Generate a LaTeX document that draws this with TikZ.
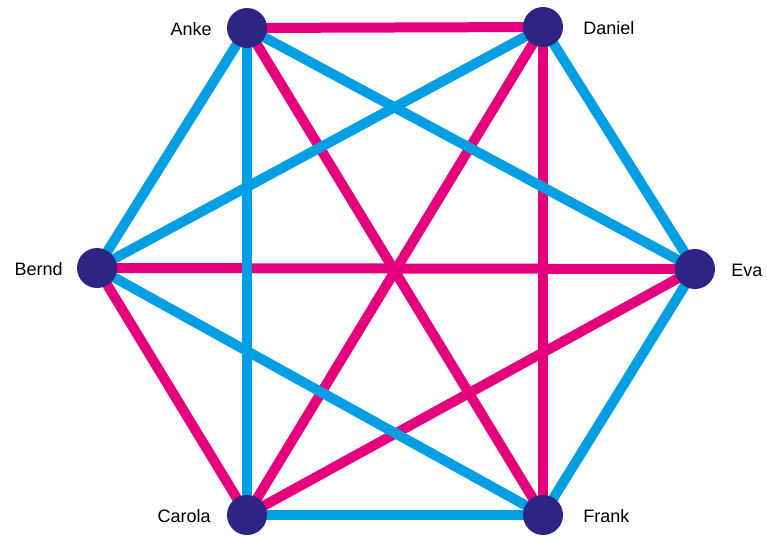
\documentclass[tikz,border=0pt]{standalone}
\usepackage{fontspec}
\setmainfont{Liberation Sans}
\usetikzlibrary{positioning}
\definecolor{ePink}{HTML}{E5007D}
\definecolor{eBlue}{HTML}{009FE3}
\definecolor{eNode}{HTML}{2E2483}
\tikzset{
  person/.style={circle, fill=eNode, draw=none, minimum size=40pt, inner sep=0pt},
  lbl/.style={inner sep=0pt, font=\fontsize{18pt}{20pt}\selectfont, text height=0.716em, text depth=0pt, yshift=-4pt},
  pinkedge/.style={draw=ePink, line width=10pt},
  blueedge/.style={draw=eBlue, line width=10pt},
}
\begin{document}
\begin{tikzpicture}[x=1pt,y=-1pt]
\useasboundingbox (0,0) rectangle (767,535);
\path
  (247,28) coordinate (pA)
  (543,27) coordinate (pD)
  (97,268) coordinate (pB)
  (695,269) coordinate (pE)
  (247,515) coordinate (pC)
  (543,515) coordinate (pF);
% pink edges (underneath)
\draw[pinkedge] (pA) -- (pD);
\draw[pinkedge] (pA) -- (pF);
\draw[pinkedge] (pD) -- (pC);
\draw[pinkedge] (pD) -- (pF);
\draw[pinkedge] (pB) -- (pE);
\draw[pinkedge] (pB) -- (pC);
\draw[pinkedge] (pE) -- (pC);
% blue edges (on top)
\draw[blueedge] (pA) -- (pB);
\draw[blueedge] (pA) -- (pC);
\draw[blueedge] (pA) -- (pE);
\draw[blueedge] (pD) -- (pB);
\draw[blueedge] (pD) -- (pE);
\draw[blueedge] (pB) -- (pF);
\draw[blueedge] (pE) -- (pF);
\draw[blueedge] (pC) -- (pF);
% nodes
\node[person] (A) at (pA) {};
\node[person] (D) at (pD) {};
\node[person] (B) at (pB) {};
\node[person] (E) at (pE) {};
\node[person] (C) at (pC) {};
\node[person] (F) at (pF) {};
% labels
\node[lbl, left=15pt of A] (lA) {Anke};
\node[lbl, right=20pt of D] (lD) {Daniel};
\node[lbl, left=14pt of B] (lB) {Bernd};
\node[lbl, right=16pt of E] (lE) {Eva};
\node[lbl, left=16pt of C] (lC) {Carola};
\node[lbl, right=20pt of F] (lF) {Frank};
\end{tikzpicture}
\end{document}
